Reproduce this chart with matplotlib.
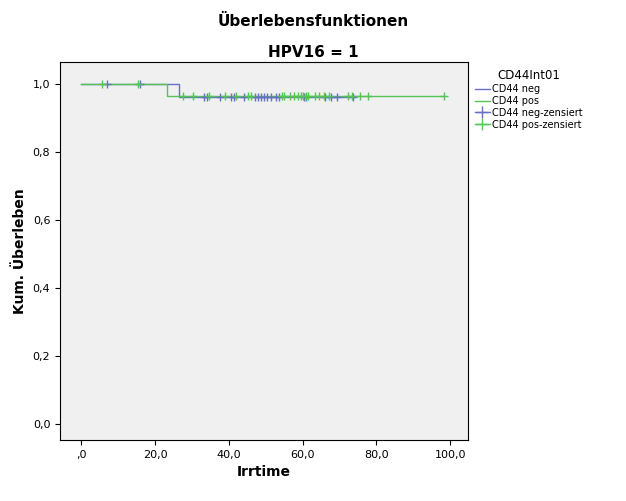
import matplotlib.pyplot as plt
from matplotlib.lines import Line2D

# step curves (time, survival)
neg_t = [0, 26.6, 74.0]
neg_s = [1.0, 0.962, 0.962]
pos_t = [0, 23.3, 98.2]
pos_s = [1.0, 0.966, 0.966]

neg_cens = [6.9, 16.0, 33.3, 34.0, 37.7, 40.5, 41.4, 44.0, 47.0, 47.8, 48.7, 49.6,
            50.5, 51.4, 52.8, 53.7, 60.3, 61.0, 66.0, 67.6, 69.4, 73.7]
pos_cens_early = [5.6, 15.5]
pos_cens = [27.7, 30.2, 34.7, 39.1, 42.0, 45.2, 45.9, 54.5, 55.0, 56.5, 57.7, 58.7,
            59.5, 60.0, 60.8, 61.5, 63.3, 64.4, 65.7, 67.1, 72.4, 73.3, 75.5, 77.8, 98.2]

blue = '#6670c4'
green = '#55c455'

fig = plt.figure(figsize=(6.26, 5.01), dpi=100)
ax = fig.add_axes([0.096, 0.122, 0.652, 0.754])
ax.set_facecolor('#f0f0f0')

ax.step(neg_t, neg_s, where='post', color=blue, lw=1)
ax.step(pos_t, pos_s, where='post', color=green, lw=1)

def surv_at(t_list, s_list, t):
    s = s_list[0]
    for ti, si in zip(t_list, s_list):
        if t >= ti:
            s = si
    return s

ax.plot(neg_cens, [surv_at(neg_t, neg_s, t) for t in neg_cens], '+', color=blue, ms=6, mew=1)
pc = pos_cens_early + pos_cens
ax.plot(pc, [surv_at(pos_t, pos_s, t) for t in pc], '+', color=green, ms=6, mew=1)

ax.set_xlim(-5.7, 104.9)
ax.set_ylim(-0.047, 1.065)
xt = [0, 20, 40, 60, 80, 100]
ax.set_xticks(xt)
ax.set_xticklabels([',0', '20,0', '40,0', '60,0', '80,0', '100,0'], fontsize=8)
yt = [0, 0.2, 0.4, 0.6, 0.8, 1.0]
ax.set_yticks(yt)
ax.set_yticklabels(['0,0', '0,2', '0,4', '0,6', '0,8', '1,0'], fontsize=8)
ax.set_xlabel('Irrtime', fontsize=10, fontweight='bold')
ax.set_ylabel('Kum. Überleben', fontsize=10, fontweight='bold')

fig.text(0.5, 0.958, 'Überlebensfunktionen', ha='center', va='center', fontsize=11, fontweight='bold')
fig.text(0.5, 0.896, 'HPV16 = 1', ha='center', va='center', fontsize=11, fontweight='bold')

handles = [Line2D([], [], color=blue, lw=1, drawstyle='steps-post'),
           Line2D([], [], color=green, lw=1, drawstyle='steps-post'),
           Line2D([], [], color=blue, marker='+', lw=1, ms=8),
           Line2D([], [], color=green, marker='+', lw=1, ms=8)]
fig.legend(handles, ['CD44 neg', 'CD44 pos', 'CD44 neg-zensiert', 'CD44 pos-zensiert'],
           title='CD44Int01', loc='upper left', bbox_to_anchor=(0.752, 0.87),
           frameon=False, fontsize=7, title_fontsize=8.5, handlelength=1.6,
           handletextpad=0.2, labelspacing=0.2, borderaxespad=0)

fig.savefig('out.png', dpi=100)
